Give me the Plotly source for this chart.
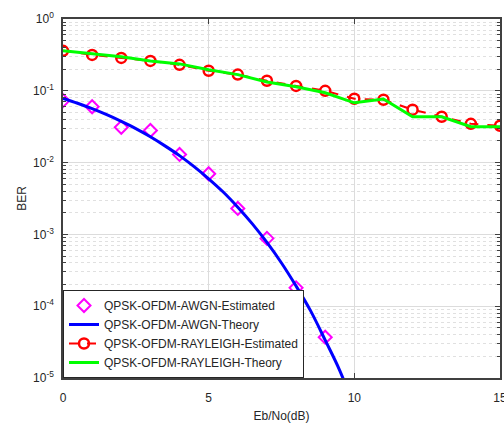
import plotly.graph_objects as go

# ---- data ----
ebno_int = [0, 1, 2, 3, 4, 5, 6, 7, 8, 9, 10, 11, 12, 13, 14, 15]

awgn_est_x = [0, 1, 2, 3, 4, 5, 6, 7, 8, 9]
awgn_est = [0.073, 0.060, 0.031, 0.028, 0.013, 0.0070, 0.0023, 0.00088, 0.00018, 3.7e-5]

awgn_th_x = [0, 0.5, 1, 1.5, 2, 2.5, 3, 3.5, 4, 4.5, 5, 5.5, 6, 6.5, 7, 7.5, 8, 8.5, 9, 9.5, 10]
awgn_th = [0.0786, 0.0671, 0.0563, 0.0464, 0.0375, 0.0298, 0.0229, 0.0171, 0.0125,
           0.00877, 0.00595, 0.00389, 0.00239, 0.00140, 0.000773, 0.000400,
           0.000191, 8.6e-5, 3.36e-5, 1.27e-5, 3.87e-6]

ray_est = [0.36, 0.316, 0.287, 0.261, 0.23, 0.19, 0.168, 0.138, 0.117, 0.10,
           0.0774, 0.075, 0.0546, 0.0435, 0.0347, 0.0326]
ray_th = [0.36, 0.327, 0.297, 0.261, 0.237, 0.196, 0.168, 0.133, 0.114, 0.094,
          0.068, 0.077, 0.0435, 0.0435, 0.0316, 0.0316]

x_ticks = [0, 5, 10, 15]
y_tick_exp = [0, -1, -2, -3, -4, -5]

fig = go.Figure()
fig.add_trace(go.Scatter(
    x=awgn_est_x, y=awgn_est, mode="markers", name="QPSK-OFDM-AWGN-Estimated",
    marker=dict(symbol="diamond-open", size=10, color="#ff00ff", line=dict(width=2, color="#ff00ff"))))
fig.add_trace(go.Scatter(
    x=awgn_th_x, y=awgn_th, mode="lines", name="QPSK-OFDM-AWGN-Theory",
    line=dict(color="#0000ff", width=3, shape="spline")))
fig.add_trace(go.Scatter(
    x=ebno_int, y=ray_est, mode="lines+markers", name="QPSK-OFDM-RAYLEIGH-Estimated",
    line=dict(color="#ff0000", width=2, dash="dash"),
    marker=dict(symbol="circle-open", size=10, color="#ff0000", line=dict(width=2.5, color="#ff0000"))))
fig.add_trace(go.Scatter(
    x=ebno_int, y=ray_th, mode="lines", name="QPSK-OFDM-RAYLEIGH-Theory",
    line=dict(color="#00ff00", width=3)))

minor_vals = []
for e in range(-5, 0):
    for m in range(2, 10):
        minor_vals.append(m * 10 ** e)

fig.update_layout(
    width=504, height=423,
    margin=dict(l=63, r=4, t=19, b=45, autoexpand=False),
    paper_bgcolor="white", plot_bgcolor="white",
    font=dict(family="Liberation Sans, Arial, sans-serif", size=12, color="#262626"),
    showlegend=True,
    legend=dict(x=0, y=0, xanchor="left", yanchor="bottom",
                bgcolor="white", bordercolor="#262626", borderwidth=1,
                font=dict(size=12, color="#262626"), itemwidth=30,
                tracegroupgap=0),
    xaxis=dict(range=[0, 15], tickvals=x_ticks, ticktext=[str(v) for v in x_ticks],
               automargin=False,
               showline=True, linecolor="#404040", linewidth=1.5, mirror="ticks",
               ticks="inside", ticklen=5, tickcolor="#404040",
               ticklabeloverflow="allow", ticklabelstandoff=8,
               tickfont=dict(size=12),
               showgrid=True, gridcolor="#dcdcdc", gridwidth=1, zeroline=False,
               title=dict(text="Eb/No(dB)", standoff=10, font=dict(size=12))),
    yaxis=dict(type="log", range=[-5, 0], automargin=False,
               tickvals=[10 ** e for e in y_tick_exp],
               ticktext=["10<sup>%d</sup>" % e for e in y_tick_exp],
               showline=True, linecolor="#404040", linewidth=1.5, mirror="ticks",
               ticks="inside", ticklen=5, tickcolor="#404040",
               ticklabelstandoff=5, tickfont=dict(size=12),
               showgrid=True, gridcolor="#dcdcdc", gridwidth=1, zeroline=False,
               minor=dict(tickvals=minor_vals, ticks="inside", ticklen=3, tickcolor="#404040",
                          showgrid=True, gridcolor="#e0e0e0", griddash="dot", gridwidth=1),
               title=dict(text="BER", standoff=4, font=dict(size=12))),
)

fig.write_html("out.html")
